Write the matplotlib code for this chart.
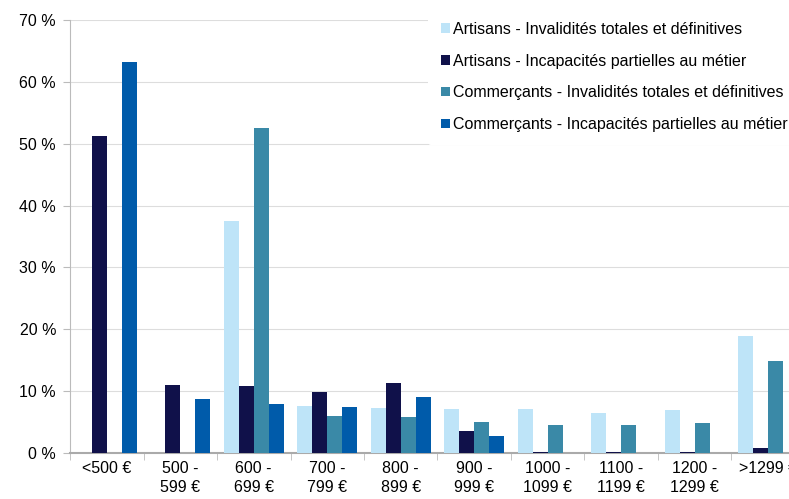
import matplotlib.pyplot as plt
import numpy as np

plt.rcParams['font.family'] = ['Liberation Sans', 'DejaVu Sans']

categories = ['<500 €', '500 -\n599 €', '600 -\n699 €', '700 -\n799 €', '800 -\n899 €',
              '900 -\n999 €', '1000 -\n1099 €', '1100 -\n1199 €', '1200 -\n1299 €', '>1299 €']
series_names = ['Artisans - Invalidités totales et définitives',
                'Artisans - Incapacités partielles au métier',
                'Commerçants - Invalidités totales et définitives',
                'Commerçants - Incapacités partielles au métier']
artisans_itd = [0, 0, 37.5, 7.6, 7.2, 7.1, 7.1, 6.4, 6.9, 18.9]
artisans_ipm = [51.3, 11.0, 10.9, 9.9, 11.3, 3.5, 0.2, 0.2, 0.2, 0.8]
commercants_itd = [0, 0, 52.5, 6.0, 5.8, 5.0, 4.6, 4.5, 4.9, 14.8]
commercants_ipm = [63.2, 8.8, 7.9, 7.5, 9.0, 2.7, 0, 0, 0, 0]
colors = ['#BEE4F8', '#10114A', '#3A89A7', '#005BAA']

fs = 11.5
fig = plt.figure(figsize=(7.89, 4.99), dpi=100)
ax = fig.add_axes([70 / 789, 46 / 499, 735 / 789, 433 / 499])

x = np.arange(len(categories))
w = 0.204
data = [artisans_itd, artisans_ipm, commercants_itd, commercants_ipm]
for i, (vals, name) in enumerate(zip(data, series_names)):
    ax.bar(x + (i - 1.5) * w, vals, w, color=colors[i], label=name, zorder=3)

ax.set_xlim(-0.5, len(categories) - 0.5)
ax.set_ylim(0, 70)
ax.set_yticks(np.arange(0, 71, 10))
ax.set_yticklabels([f'{v} %' for v in range(0, 71, 10)], fontsize=fs)
ax.set_xticks(x)
ax.set_xticklabels(categories, fontsize=fs, va='top', linespacing=1.3)
ax.set_xticks(np.arange(-0.5, len(categories), 1), minor=True)
ax.tick_params(axis='x', which='major', length=0, pad=6)
ax.tick_params(axis='x', which='minor', length=5, color='#BBBBBB')
ax.tick_params(axis='y', length=5, color='#BBBBBB', pad=5)
ax.yaxis.grid(True, color='#DDDDDD', linewidth=0.8, zorder=0)
for s in ['top', 'right']:
    ax.spines[s].set_visible(False)
ax.spines['left'].set_color('#BBBBBB')
ax.spines['bottom'].set_color('#AAAAAA')
ax.spines['bottom'].set_linewidth(1.5)
ax.set_axisbelow(True)

leg = fig.legend(loc='upper left', bbox_to_anchor=(428 / 789, 1 - 9 / 499), fontsize=fs,
                 handlelength=0.55, handleheight=0.55, handletextpad=0.2,
                 labelspacing=1.05, frameon=True, facecolor='white', edgecolor='none',
                 framealpha=1, borderpad=0.8, borderaxespad=0)

fig.savefig('out.png', dpi=100)
